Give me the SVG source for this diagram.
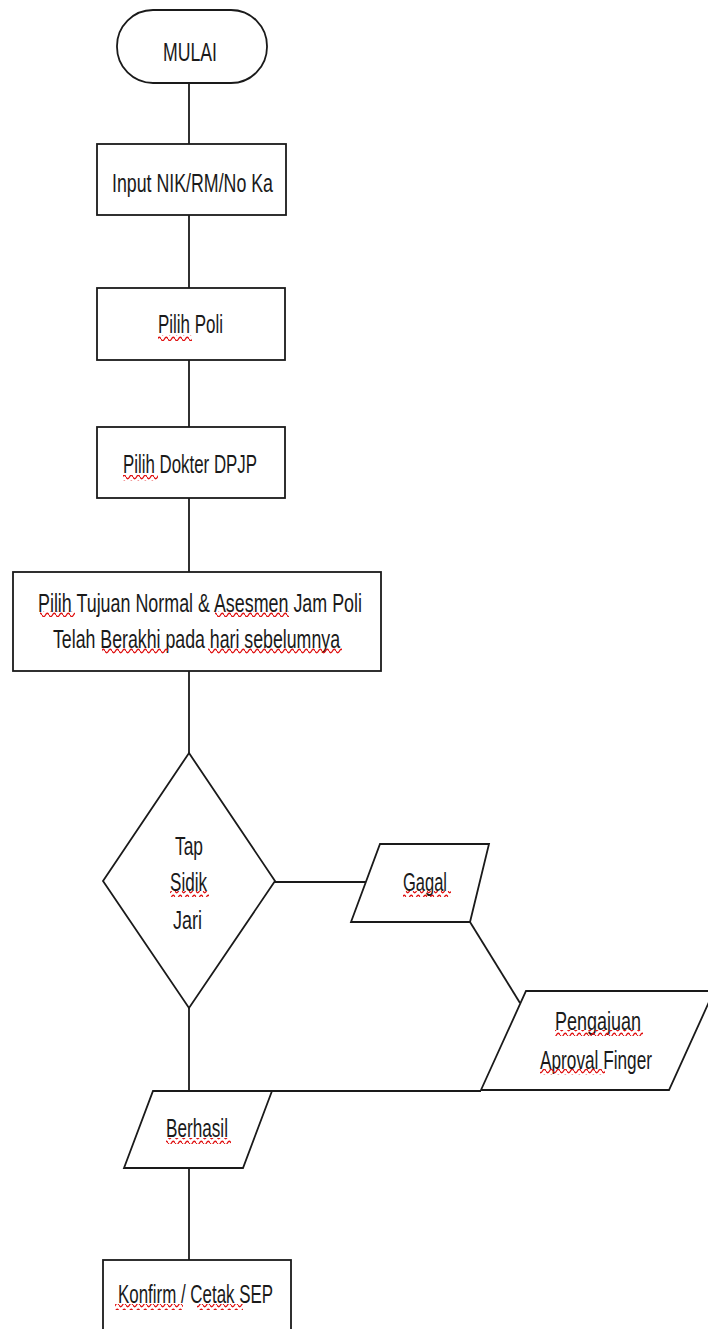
<svg xmlns="http://www.w3.org/2000/svg" width="708" height="1329" viewBox="0 0 708 1329">
<style>
.shape{fill:#fff;stroke:#1a1a1a;stroke-width:1.8}
.conn{fill:none;stroke:#1a1a1a;stroke-width:1.8}
.t{font-family:"Liberation Sans",Arial,sans-serif;font-size:25px;fill:#1a1a1a}
.sq{fill:url(#wave)}
</style>
<defs>
<pattern id="wave" x="0" y="0" width="7" height="6" patternUnits="userSpaceOnUse">
<path d="M0,3 Q1.75,6.5 3.5,3 Q5.25,-0.5 7,3" fill="none" stroke="#e01010" stroke-width="1.3"/>
</pattern>
</defs>
<rect width="708" height="1329" fill="#fff"/>
<g id="connectors">
<line class="conn" x1="189" y1="83" x2="189" y2="144"/>
<line class="conn" x1="189" y1="215" x2="189" y2="288"/>
<line class="conn" x1="189" y1="360" x2="189" y2="427"/>
<line class="conn" x1="189" y1="498" x2="189" y2="572"/>
<line class="conn" x1="189" y1="671" x2="189" y2="753"/>
<line class="conn" x1="274" y1="882" x2="366" y2="882"/>
<line class="conn" x1="470" y1="922" x2="520" y2="1003"/>
<line class="conn" x1="189" y1="1008" x2="189" y2="1091"/>
<line class="conn" x1="272" y1="1091" x2="481" y2="1091"/>
<line class="conn" x1="189" y1="1169" x2="189" y2="1260"/>
</g>
<g id="mulai">
<rect class="shape" x="117" y="10" width="150" height="73" rx="36" ry="36"/>
<text class="t" x="163" y="61" textLength="54" lengthAdjust="spacingAndGlyphs">MULAI</text>
</g>
<g id="input">
<rect class="shape" x="97" y="144" width="189" height="71"/>
<text class="t" x="112" y="192" textLength="161" lengthAdjust="spacingAndGlyphs">Input NIK/RM/No Ka</text>
</g>
<g id="pilih-poli">
<rect class="shape" x="97" y="288" width="188" height="72"/>
<text class="t" x="158" y="333" textLength="65" lengthAdjust="spacingAndGlyphs">Pilih Poli</text>
<rect class="sq" x="158" y="335" width="34" height="6"/>
</g>
<g id="pilih-dokter">
<rect class="shape" x="97" y="427" width="188" height="71"/>
<text class="t" x="123" y="473" textLength="134" lengthAdjust="spacingAndGlyphs">Pilih Dokter DPJP</text>
<rect class="sq" x="123" y="475" width="35" height="6"/>
</g>
<g id="pilih-tujuan">
<rect class="shape" x="13" y="572" width="368" height="99"/>
<text class="t" x="38" y="612" textLength="324" lengthAdjust="spacingAndGlyphs">Pilih Tujuan Normal &amp; Asesmen Jam Poli</text>
<text class="t" x="53" y="648" textLength="287" lengthAdjust="spacingAndGlyphs">Telah Berakhi pada hari sebelumnya</text>
<rect class="sq" x="40" y="611" width="35" height="6"/>
<rect class="sq" x="215" y="611" width="74" height="6"/>
<rect class="sq" x="102" y="648" width="66" height="6"/>
<rect class="sq" x="208" y="648" width="134" height="6"/>
</g>
<g id="tap-sidik-jari">
<polygon class="shape" points="189,753 275,881 189,1008 103,881"/>
<text class="t" x="175" y="855" textLength="28" lengthAdjust="spacingAndGlyphs">Tap</text>
<text class="t" x="170" y="891" textLength="37" lengthAdjust="spacingAndGlyphs">Sidik</text>
<text class="t" x="173" y="929" textLength="29" lengthAdjust="spacingAndGlyphs">Jari</text>
<rect class="sq" x="170" y="891" width="39" height="6"/>
</g>
<g id="gagal">
<polygon class="shape" points="380,844 489,844 470,922 351,922"/>
<text class="t" x="403" y="891" textLength="44" lengthAdjust="spacingAndGlyphs">Gagal</text>
<rect class="sq" x="403" y="891" width="48" height="6"/>
</g>
<g id="pengajuan">
<polygon class="shape" points="526,991 714,991 669,1090 481,1090"/>
<text class="t" x="555" y="1030" textLength="86" lengthAdjust="spacingAndGlyphs">Pengajuan</text>
<text class="t" x="540" y="1069" textLength="112" lengthAdjust="spacingAndGlyphs">Aproval Finger</text>
<rect class="sq" x="555" y="1030" width="88" height="6"/>
<rect class="sq" x="540" y="1069" width="65" height="6"/>
</g>
<g id="berhasil">
<polygon class="shape" points="153,1091 272,1091 243,1168 124,1168"/>
<text class="t" x="166" y="1137" textLength="62" lengthAdjust="spacingAndGlyphs">Berhasil</text>
<rect class="sq" x="166" y="1138" width="65" height="6"/>
</g>
<g id="konfirm">
<rect class="shape" x="103" y="1260" width="188" height="100"/>
<text class="t" x="118" y="1303" textLength="155" lengthAdjust="spacingAndGlyphs">Konfirm / Cetak SEP</text>
<rect class="sq" x="115" y="1304" width="68" height="6"/>
<rect class="sq" x="197" y="1304" width="46" height="6"/>
</g>
</svg>
